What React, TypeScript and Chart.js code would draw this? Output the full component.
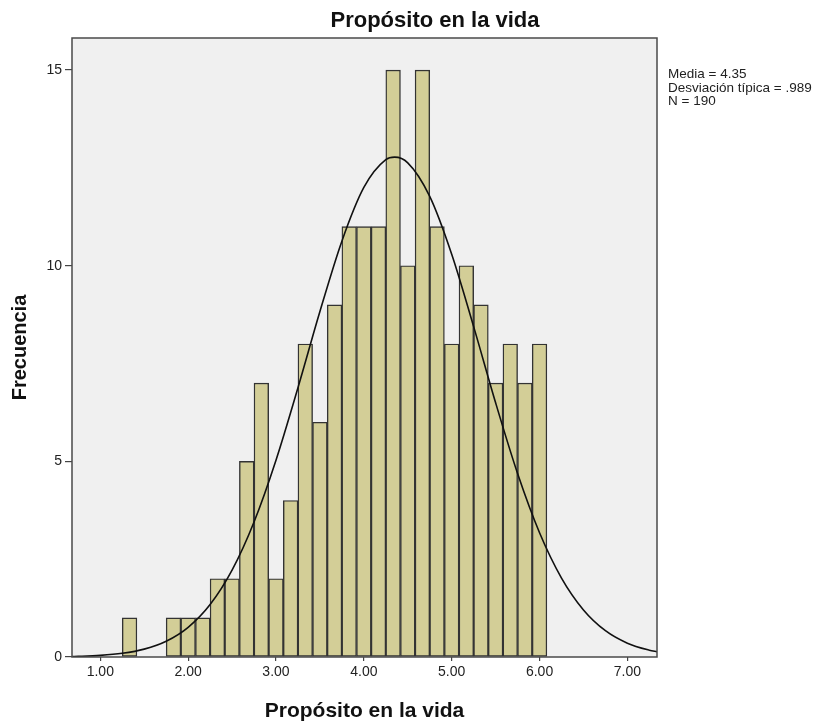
import React, { useEffect, useRef } from "react";
import { Chart, registerables } from "chart.js";

Chart.register(...registerables);

// ---- Data ----
const binCenters = [
  1.3333, 1.5, 1.6667, 1.8333, 2.0, 2.1667, 2.3333, 2.5, 2.6667, 2.8333,
  3.0, 3.1667, 3.3333, 3.5, 3.6667, 3.8333, 4.0, 4.1667, 4.3333, 4.5,
  4.6667, 4.8333, 5.0, 5.1667, 5.3333, 5.5, 5.6667, 5.8333, 6.0,
];
const binCounts = [
  1, 0, 0, 1, 1, 1, 2, 2, 5, 7,
  2, 4, 8, 6, 9, 11, 11, 11, 15, 10,
  15, 11, 8, 10, 9, 7, 8, 7, 8,
];
const curveX = [
  0.68, 0.75, 1.0, 1.25, 1.5, 1.75, 2.0, 2.25, 2.5, 2.75, 3.0, 3.25, 3.5,
  3.75, 4.0, 4.25, 4.35, 4.5, 4.75, 5.0, 5.25, 5.5, 5.75, 6.0, 6.25, 6.5,
  6.75, 7.0, 7.25, 7.34,
];
const curveY = [
  0.013, 0.017, 0.041, 0.094, 0.201, 0.403, 0.759, 1.341, 2.22, 3.451,
  5.031, 6.882, 8.83, 10.628, 12.0, 12.71, 12.775, 12.629, 11.772, 10.294,
  8.444, 6.497, 4.69, 3.176, 2.018, 1.203, 0.672, 0.353, 0.174, 0.132,
];
const xTickValues = [1, 2, 3, 4, 5, 6, 7];
const yTickValues = [0, 5, 10, 15];
const chartTitle = "Propósito en la vida";
const xAxisTitle = "Propósito en la vida";
const yAxisTitle = "Frecuencia";
const statsLines = ["Media = 4.35", "Desviación típica = .989", "N = 190"];

const X_MIN = 0.678;
const X_MAX = 7.337;
const Y_MAX = 15.82;

const FAMILY = '"Liberation Sans", Arial, Helvetica, sans-serif';

const decorPlugin = {
  id: "decor",
  beforeDraw(chart: any) {
    const { ctx, chartArea: a, width, height } = chart;
    ctx.save();
    ctx.fillStyle = "#ffffff";
    ctx.fillRect(0, 0, width, height);
    ctx.fillStyle = "#F0F0F0";
    ctx.fillRect(a.left, a.top, a.right - a.left, a.bottom - a.top);
    ctx.restore();
  },
  afterDraw(chart: any) {
    const { ctx, chartArea: a } = chart;
    ctx.save();
    ctx.strokeStyle = "#4a4a4a";
    ctx.lineWidth = 1.5;
    ctx.strokeRect(a.left, a.top, a.right - a.left, a.bottom - a.top);

    ctx.fillStyle = "#111111";
    ctx.font = `bold 22px ${FAMILY}`;
    ctx.textAlign = "center";
    ctx.textBaseline = "alphabetic";
    ctx.fillText(chartTitle, 435, 26.5);

    ctx.font = `13.5px ${FAMILY}`;
    ctx.textAlign = "left";
    ctx.fillStyle = "#222222";
    statsLines.forEach((s, i) => ctx.fillText(s, a.right + 11, a.top + 40 + i * 13.5));
    ctx.restore();
  },
};

export default function App() {
  const canvasRef = useRef<HTMLCanvasElement | null>(null);

  useEffect(() => {
    if (!canvasRef.current) return;
    const chart = new Chart(canvasRef.current, {
      type: "bar",
      data: {
        datasets: [
          {
            type: "line",
            label: "Normal",
            data: curveX.map((x, i) => ({ x, y: curveY[i] })),
            borderColor: "#111111",
            borderWidth: 1.6,
            pointRadius: 0,
            fill: false,
            cubicInterpolationMode: "monotone",
            order: 0,
          } as any,
          {
            type: "bar",
            label: "Frecuencia",
            data: binCenters.map((x, i) => ({ x, y: binCounts[i] })),
            backgroundColor: "#D3CE97",
            borderColor: "#333333",
            borderWidth: 1.4,
            borderSkipped: false,
            barPercentage: 1,
            categoryPercentage: 1,
            order: 1,
          } as any,
        ],
      },
      options: {
        animation: false,
        responsive: false,
        devicePixelRatio: 1,
        layout: { padding: { top: 38, right: 175, left: 0, bottom: 0 } },
        plugins: {
          legend: { display: false },
          tooltip: { enabled: false },
          title: { display: false },
        },
        scales: {
          x: {
            type: "linear",
            min: X_MIN,
            max: X_MAX,
            offset: false,
            grid: {
              display: true,
              drawOnChartArea: false,
              drawTicks: true,
              tickLength: 4,
              color: "#444444",
              lineWidth: 1.2,
              offset: false,
            },
            border: { display: false },
            afterBuildTicks: (s: any) => {
              s.ticks = xTickValues.map((v) => ({ value: v }));
            },
            afterFit: (s: any) => {
              s.height = 68;
            },
            ticks: {
              callback: (v: any) => Number(v).toFixed(2),
              color: "#222222",
              font: { family: FAMILY, size: 14 },
              padding: 3,
              maxRotation: 0,
              autoSkip: false,
            },
            title: {
              display: true,
              text: xAxisTitle,
              color: "#111111",
              font: { family: FAMILY, size: 21, weight: "bold" },
              padding: { top: 0, bottom: 1 },
            },
          },
          y: {
            type: "linear",
            min: 0,
            max: Y_MAX,
            grid: {
              display: true,
              drawOnChartArea: false,
              drawTicks: true,
              tickLength: 7,
              color: "#444444",
              lineWidth: 1.2,
            },
            border: { display: false },
            afterBuildTicks: (s: any) => {
              s.ticks = yTickValues.map((v) => ({ value: v }));
            },
            afterFit: (s: any) => {
              s.width = 72;
            },
            ticks: {
              callback: (v: any) => String(v),
              color: "#222222",
              font: { family: FAMILY, size: 14 },
              padding: 3,
              autoSkip: false,
            },
            title: {
              display: true,
              text: yAxisTitle,
              color: "#111111",
              font: { family: FAMILY, size: 20, weight: "bold" },
              padding: { top: 8, bottom: 0 },
            },
          },
        },
      } as any,
      plugins: [decorPlugin],
    });
    return () => chart.destroy();
  }, []);

  return (
    <div style={{ position: "absolute", left: 0, top: 0, width: 832, height: 725, background: "#fff" }}>
      <canvas ref={canvasRef} width={832} height={725} style={{ display: "block", width: 832, height: 725 }} />
    </div>
  );
}
